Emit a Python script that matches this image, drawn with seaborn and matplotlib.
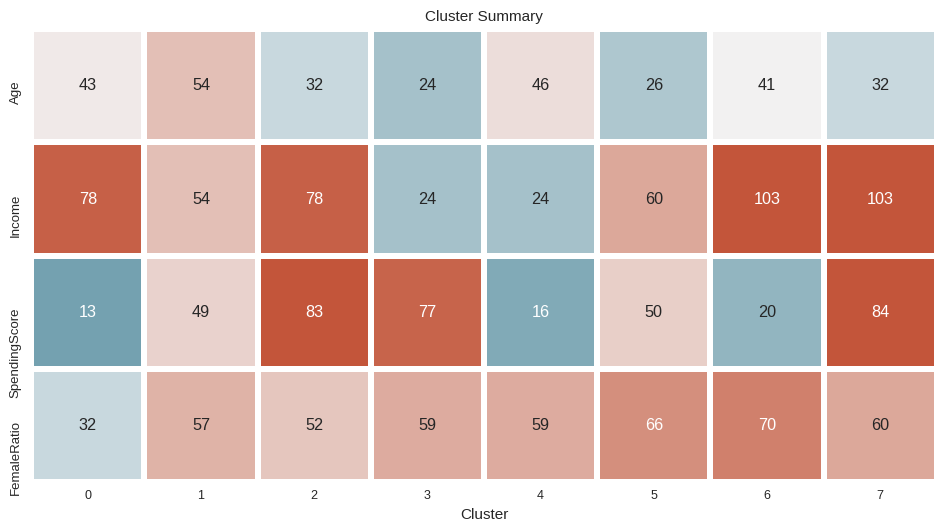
import numpy as np
import pandas as pd
import matplotlib
matplotlib.use("Agg")
import matplotlib.pyplot as plt
import matplotlib.transforms as mtransforms
import seaborn as sns

clusters = [0, 1, 2, 3, 4, 5, 6, 7]
features = ["Age", "Income", "SpendingScore", "FemaleRatio"]
age = [43, 54, 32, 24, 46, 26, 41, 32]
income = [78, 54, 78, 24, 24, 60, 103, 103]
spending = [13, 49, 83, 77, 16, 50, 20, 84]
female_ratio = [32, 57, 52, 59, 59, 66, 70, 60]

df = pd.DataFrame([age, income, spending, female_ratio], index=features, columns=clusters)
df.columns.name = "Cluster"

sns.set_theme(style="white")
plt.rcParams["font.family"] = ["Liberation Sans", "DejaVu Sans"]

W, H = 945, 531
fig = plt.figure(figsize=(9.45, 5.31), dpi=100)
left, right, top, bottom = 31.2, 936.8, 29.2, 482.0
ax = fig.add_axes([left / W, 1 - bottom / H, (right - left) / W, (bottom - top) / H])
cmap = sns.diverging_palette(220, 20, as_cmap=True)
sns.heatmap(df, ax=ax, cmap=cmap, center=41, vmin=1, vmax=81, annot=True, fmt="d",
            linewidths=3, linecolor="white", cbar=False,
            annot_kws={"fontsize": 11.7})
ax.set_title("Cluster Summary", fontsize=11, pad=6)
ax.set_xlabel("Cluster", fontsize=11, labelpad=4)
ax.set_ylabel("")
ax.tick_params(axis="x", labelsize=9, length=0, pad=6)
ax.tick_params(axis="y", labelsize=9.5, length=0, pad=7)
offset = mtransforms.ScaledTranslation(0, 5 / 100, fig.dpi_scale_trans)
for lbl in ax.get_yticklabels():
    lbl.set_rotation(90)
    lbl.set_va("top")
    lbl.set_transform(lbl.get_transform() + offset)
fig.savefig("out.png", dpi=100)
